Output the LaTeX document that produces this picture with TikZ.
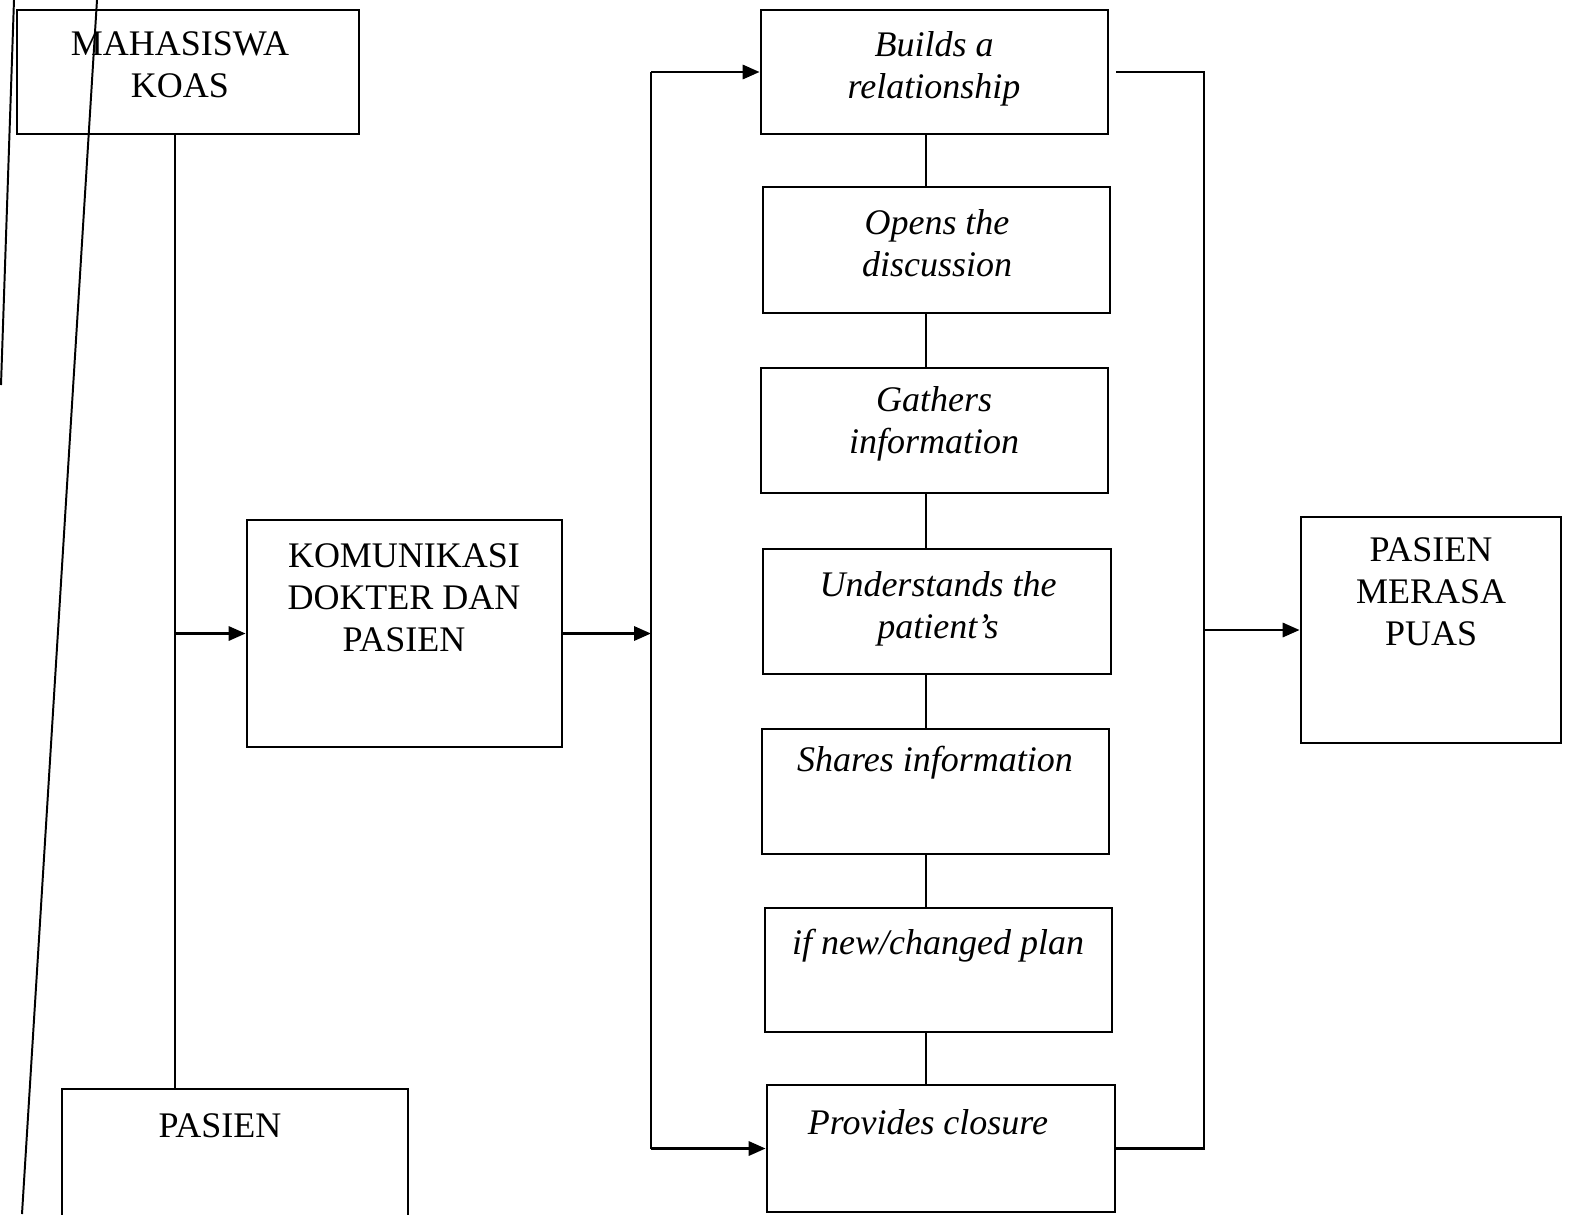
\documentclass[tikz,border=0pt]{standalone}
\usepackage{fontspec}
\setmainfont{Liberation Serif}
\usetikzlibrary{arrows.meta, positioning}
\newcommand{\pxu}{0.0125cm}

\begin{document}
\begin{tikzpicture}[x=0.0125cm, y=-0.0125cm, line width=1pt,
  >={Triangle[length=6pt, width=5pt]},
  font=\fontsize{12.8}{14.94}\selectfont,
  box/.style 2 args={draw, rectangle, inner sep=0pt,
    minimum width=#1*\pxu, minimum height=#2*\pxu},
  lbl/.style={align=center, inner sep=0pt},
  stplbl/.style={lbl, font=\fontsize{12.8}{14.94}\selectfont\itshape}]
  \useasboundingbox (0,0) rectangle (1570,1214);
  \clip (0,0) rectangle (1570,1214);

  % kiri
  \node[box={342}{124}] (mhs) at (188,72) {};
  \node[lbl] (mhs-t) at (180,65) {MAHASISWA\\KOAS};
  \node[box={346}{140}] (pas) at (235,1159) {};
  \node[lbl] (pas-t) at (220,1126) {PASIEN};
  \node[box={315}{227}] (kom) at (404.5,633.5) {};
  \node[lbl] (kom-t) at (404,598) {KOMUNIKASI\\DOKTER DAN\\PASIEN};

  % tahapan
  \node[box={347}{124}] (rel) at (934.5,72) {};
  \node[stplbl] (rel-t) at (934,69) {Builds a\\relationship};
  \node[box={347}{126}] (opn) at (936.5,250) {};
  \node[stplbl] (opn-t) at (937,243) {Opens the\\discussion};
  \node[box={347}{125}] (gat) at (934.5,430.5) {};
  \node[stplbl] (gat-t) at (934,424) {Gathers\\information};
  \node[box={348}{125}] (und) at (937,611.5) {};
  \node[stplbl] (und-t) at (938,609) {Understands the\\patient’s};
  \node[box={347}{125}] (sha) at (935.5,791.5) {};
  \node[stplbl] (sha-t) at (935,763) {Shares information};
  \node[box={347}{124}] (pln) at (938.5,970) {};
  \node[stplbl] (pln-t) at (938,946) {if new/changed plan};
  \node[box={348}{127}] (clo) at (941,1148.5) {};
  \node[stplbl] (clo-t) at (928,1122) {Provides closure};

  % kanan
  \node[box={260}{226}] (puas) at (1431,630) {};
  \node[lbl] (puas-t) at (1431,592) {PASIEN\\MERASA\\PUAS};

  \coordinate (lbus) at (175,0);
  \coordinate (mbus) at (651,0);
  \coordinate (cbus) at (926,0);
  \coordinate (rbus) at (1204,0);

  \draw (mhs.south -| lbus) -- (pas.north -| lbus);
  \draw[->] (lbus |- kom.west) -- (kom.west);
  \draw[->] (kom.east) -- (kom.east -| mbus);

  \draw (mbus |- rel.west) -- (mbus |- clo.west);
  \draw[->] (mbus |- rel.west) -- (rel.west);
  \draw[->] (mbus |- clo.west) -- (clo.west);

  \foreach \a/\b in {rel/opn, opn/gat, gat/und, und/sha, sha/pln, pln/clo}
    \draw (\a.south -| cbus) -- (\b.north -| cbus);

  \draw[shorten <=2.5pt] (rel.east) -- (rbus |- rel.east) -- (rbus |- clo.east) -- (clo.east);
  \draw[->] (rbus |- puas.west) -- (puas.west);

  % garis tepi hasil pindai
  \draw[line width=0.7pt] (97,0) -- (22,1214);
  \draw[line width=0.7pt] (14,0) -- (1,385);
\end{tikzpicture}
\end{document}
